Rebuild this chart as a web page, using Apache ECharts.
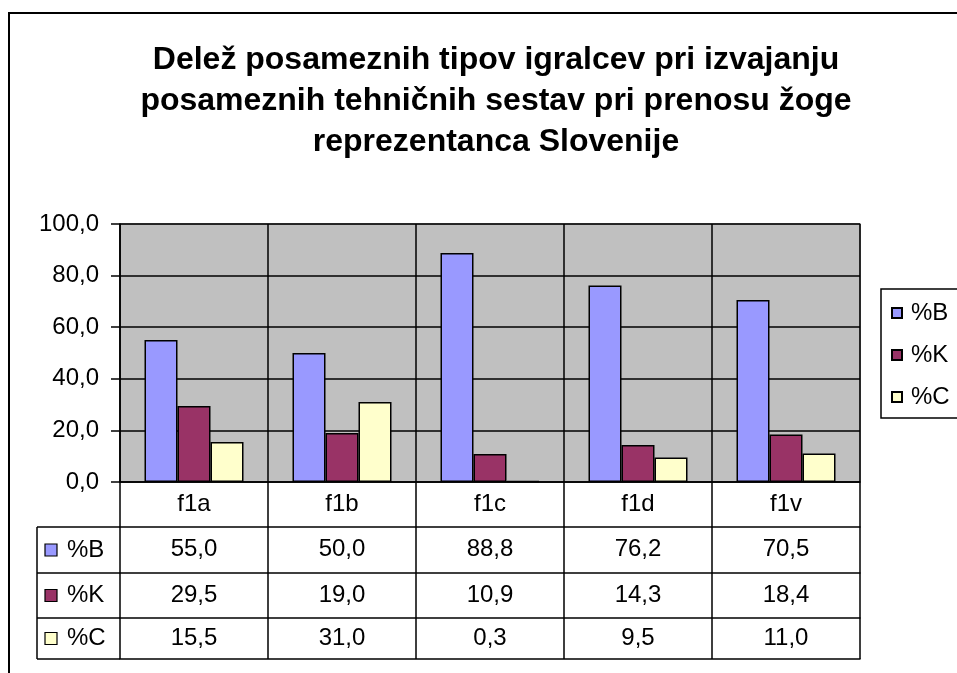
<!DOCTYPE html>
<html lang="sl">
<head>
<meta charset="UTF-8">
<title>Delež posameznih tipov igralcev</title>
<script src="https://cdn.jsdelivr.net/npm/echarts@6/dist/echarts.min.js"></script>
<style>
  html, body { margin: 0; padding: 0; background: #fff; }
  #main { width: 957px; height: 673px; }
</style>
</head>
<body>
<div id="main"></div>
<script>
// podatki
var categories = ['f1a', 'f1b', 'f1c', 'f1d', 'f1v'];
var seriesNames = ['%B', '%K', '%C'];
var valB = [55.0, 50.0, 88.8, 76.2, 70.5];
var valK = [29.5, 19.0, 10.9, 14.3, 18.4];
var valC = [15.5, 31.0, 0.3, 9.5, 11.0];
var yTicks = [0, 20, 40, 60, 80, 100];

var colors = ['#9999ff', '#993366', '#ffffcc'];
var allVals = [valB, valK, valC];
var FONT = 'Liberation Sans, Arial, sans-serif';
var FS = 24;

// postavitev
var GL = 120, GT = 224, GR = 860, GB = 482;
var rowTop = [527, 573, 618];      // zgornji rob vrstic tabele
var rowBot = [573, 618, 659];
var TL = 37;                       // levi rob tabele

function fmt(v) { return v.toFixed(1).replace('.', ','); }

var chart = echarts.init(document.getElementById('main'));

// vrstice tabele kot dodatne x osi
var xAxes = [{
  type: 'category',
  data: categories,
  gridIndex: 0,
  position: 'bottom',
  axisLine: { lineStyle: { color: '#000', width: 1.5 } },
  axisTick: { show: true, interval: 0, length: rowTop[0] - GB, lineStyle: { color: '#000', width: 1.5 } },
  axisLabel: { interval: 0, margin: 10, color: '#000', fontSize: FS, fontFamily: FONT },
  splitLine: { show: true, interval: 0, lineStyle: { color: '#000', width: 1.5 } }
}];
allVals.forEach(function (vals, i) {
  xAxes.push({
    type: 'category',
    data: categories,
    gridIndex: 0,
    position: 'bottom',
    offset: rowTop[i] - GB,
    axisLine: { lineStyle: { color: '#000', width: 1.5 } },
    axisTick: { show: true, interval: 0, length: rowBot[i] - rowTop[i], lineStyle: { color: '#000', width: 1.5 } },
    axisLabel: {
      interval: 0, margin: i === 2 ? 8 : 10, color: '#000', fontSize: FS, fontFamily: FONT,
      formatter: function (v, idx) { return fmt(vals[idx]); }
    },
    splitLine: { show: false }
  });
});
// spodnji rob tabele
xAxes.push({
  type: 'category',
  data: categories,
  gridIndex: 0,
  position: 'bottom',
  offset: rowBot[2] - GB,
  axisLine: { lineStyle: { color: '#000', width: 1.5 } },
  axisTick: { show: false },
  axisLabel: { show: false },
  splitLine: { show: false }
});

// leva kolona tabele
var graphics = [{
  type: 'rect',
  shape: { x: 9, y: 13, width: 1000, height: 700 },
  style: { fill: 'none', stroke: '#000', lineWidth: 2 },
  z: -10
}, {
  type: 'line',
  shape: { x1: TL, y1: rowTop[0], x2: TL, y2: rowBot[2] },
  style: { stroke: '#000', lineWidth: 1.5 }
}];
[rowTop[0]].concat(rowBot).forEach(function (y) {
  graphics.push({
    type: 'line',
    shape: { x1: TL, y1: y, x2: GL, y2: y },
    style: { stroke: '#000', lineWidth: 1.5 }
  });
});
seriesNames.forEach(function (name, i) {
  var cy = (rowTop[i] + rowBot[i]) / 2;
  graphics.push({
    type: 'rect',
    shape: { x: TL + 8, y: cy - 6, width: 12, height: 12 },
    style: { fill: colors[i], stroke: '#000', lineWidth: 1.2 }
  });
  graphics.push({
    type: 'text',
    x: TL + 30, y: cy,
    style: { text: name, fill: '#000', font: FS + 'px ' + FONT, textVerticalAlign: 'middle' }
  });
});

var option = {
  animation: false,
  backgroundColor: '#fff',
  title: {
    text: 'Delež posameznih tipov igralcev pri izvajanju\nposameznih tehničnih sestav pri prenosu žoge\nreprezentanca Slovenije',
    left: 491,
    top: 35,
    textAlign: 'center',
    textStyle: { fontSize: 32, fontWeight: 'bold', color: '#000', fontFamily: FONT, lineHeight: 41 }
  },
  legend: {
    orient: 'vertical',
    left: 881,
    top: 289,
    data: seriesNames,
    icon: 'rect',
    itemWidth: 10,
    itemHeight: 10,
    itemGap: 18,
    padding: [12, 40, 9, 10],
    borderColor: '#000',
    borderWidth: 1.5,
    textStyle: { fontSize: FS, color: '#000', fontFamily: FONT, padding: [0, 0, 0, 4] }
  },
  grid: {
    left: GL, top: GT, right: 957 - GR, bottom: 673 - GB,
    show: true,
    backgroundColor: '#c0c0c0',
    borderColor: '#808080',
    borderWidth: 1.5
  },
  xAxis: xAxes,
  yAxis: {
    type: 'value',
    min: yTicks[0],
    max: yTicks[yTicks.length - 1],
    interval: 20,
    axisLine: { show: true, lineStyle: { color: '#000', width: 1.5 } },
    axisTick: { show: true, length: 9, lineStyle: { color: '#000', width: 1.5 } },
    axisLabel: { margin: 21, color: '#000', fontSize: FS, fontFamily: FONT, formatter: function (v) { return fmt(v); } },
    splitLine: { show: true, lineStyle: { color: '#000', width: 1.5 } }
  },
  series: seriesNames.map(function (name, i) {
    return {
      name: name,
      type: 'bar',
      xAxisIndex: 0,
      data: allVals[i],
      barWidth: 33,
      barGap: '0%',
      itemStyle: { color: colors[i], borderColor: '#000', borderWidth: 1.5 }
    };
  }),
  graphic: graphics
};

chart.setOption(option);
</script>
</body>
</html>
